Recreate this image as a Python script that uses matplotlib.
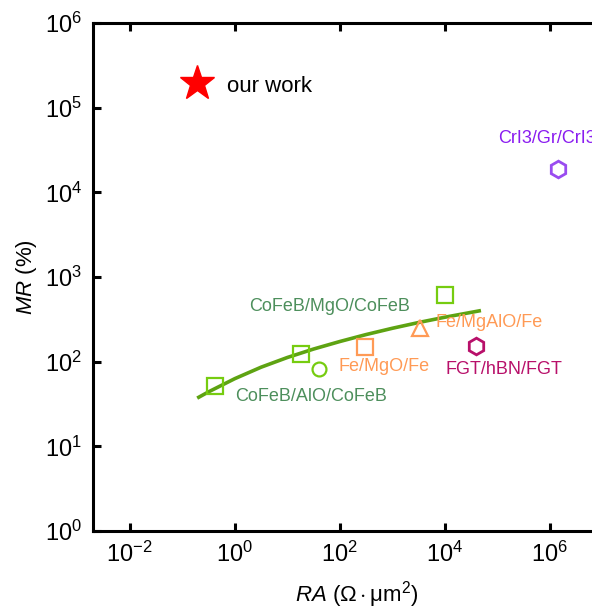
import matplotlib
matplotlib.use("Agg")
import matplotlib.pyplot as plt
import numpy as np

plt.rcParams["font.family"] = ["Liberation Sans", "DejaVu Sans"]
plt.rcParams["mathtext.fontset"] = "custom"
plt.rcParams["mathtext.rm"] = "Liberation Sans"
plt.rcParams["mathtext.it"] = "Liberation Sans:italic"

# data (RA in Ohm*um^2, MR in %)
star_ra = [0.19]
star_mr = [1.95e5]

cofeb_sq_ra = [0.42, 18, 1.0e4]
cofeb_sq_mr = [51, 124, 610]

cofeb_circ_ra = [40]
cofeb_circ_mr = [82]

fe_sq_ra = [300]
fe_sq_mr = [150]

fe_tri_ra = [3300]
fe_tri_mr = [250]

fgt_ra = [3.9e4]
fgt_mr = [155]

cri3_ra = [1.44e6]
cri3_mr = [1.9e4]

# trend line, points
curve_ra = [0.206, 0.316, 1.0, 3.16, 10, 31.6, 100, 316, 1000, 3160, 1.0e4, 4.5e4]
curve_mr = [38, 44, 63, 86, 112, 141, 173, 209, 248, 290, 335, 398]

GREEN = "#76cc10"
CURVE = "#5ea312"
ORANGE = "#ff9a55"
MAGENTA = "#b8106a"
PURPLE = "#9a4cf0"
LABEL_GREEN = "#4d8f5c"


def px2data(px, py):
    # convert reference pixel position to data coords (for text only)
    return 10 ** ((px - 235) / 52.5), 10 ** (6 - (py - 23) / 84.7)


fig = plt.figure(figsize=(5.92, 6.09), dpi=100)
# the right part of the frame lies outside the picture, as in the reference
ax = fig.add_axes((93 / 592, 78 / 609, 614.5 / 592, 508 / 609))
ax.set_xscale("log")
ax.set_yscale("log")
ax.set_xlim(10 ** -2.70, 1e9)
ax.set_ylim(1, 1e6)

ax.plot(curve_ra, curve_mr, color=CURVE, lw=2.6, zorder=2)
ax.plot(cofeb_sq_ra, cofeb_sq_mr, ls="none", marker="s", ms=11, mfc="none",
        mec=GREEN, mew=1.6, zorder=3)
ax.plot(cofeb_circ_ra, cofeb_circ_mr, ls="none", marker="o", ms=10, mfc="none",
        mec=GREEN, mew=1.6, zorder=3)
ax.plot(fe_sq_ra, fe_sq_mr, ls="none", marker="s", ms=11, mfc="none",
        mec=ORANGE, mew=1.6, zorder=3)
ax.plot(fe_tri_ra, fe_tri_mr, ls="none", marker="^", ms=12, mfc="none",
        mec=ORANGE, mew=1.6, zorder=3)
ax.plot(fgt_ra, fgt_mr, ls="none", marker="h", ms=12, mfc="none",
        mec=MAGENTA, mew=2.0, zorder=3)
ax.plot(cri3_ra, cri3_mr, ls="none", marker="h", ms=12, mfc="none",
        mec=PURPLE, mew=2.0, zorder=3)
ax.plot(star_ra, star_mr, ls="none", marker="*", ms=26, color="#ff0000",
        mec="#ff0000", zorder=3)

labels = [
    ("our work", 227, 87, "black", 16),
    ("CoFeB/MgO/CoFeB", 249, 307, LABEL_GREEN, 13),
    ("CoFeB/AlO/CoFeB", 235, 397, LABEL_GREEN, 13),
    ("Fe/MgO/Fe", 339, 367, ORANGE, 13),
    ("Fe/MgAlO/Fe", 436, 323, ORANGE, 13),
    ("FGT/hBN/FGT", 446, 370, MAGENTA, 13),
    ("CrI3/Gr/CrI3", 498, 139, "#8a1cf0", 13),
]
for txt, px, py, col, fs in labels:
    x, y = px2data(px, py)
    ax.text(x, y, txt, color=col, fontsize=fs, ha="left", va="center",
            clip_on=False)

ax.set_xticks([1e-2, 1e0, 1e2, 1e4, 1e6])
ax.set_xticklabels(["$10^{-2}$", "$10^{0}$", "$10^{2}$", "$10^{4}$", "$10^{6}$"])
ax.set_yticks([1e0, 1e1, 1e2, 1e3, 1e4, 1e5, 1e6])
ax.set_yticklabels(["$10^{%d}$" % i for i in range(7)])
ax.minorticks_off()
ax.tick_params(which="major", direction="in", length=6, width=2.2,
               labelsize=17, top=True, right=False, pad=8)

for sp in ax.spines.values():
    sp.set_linewidth(2.2)
ax.spines["right"].set_visible(False)

ax.set_xlabel(r"$\it{RA}$ $(\Omega\cdot\mathrm{\mu m}^2)$", fontsize=16)
ax.xaxis.set_label_coords(0.43, -0.095)
ax.set_ylabel(r"$\it{MR}$ (%)", fontsize=16, labelpad=4)

fig.savefig("out.png", dpi=100)
